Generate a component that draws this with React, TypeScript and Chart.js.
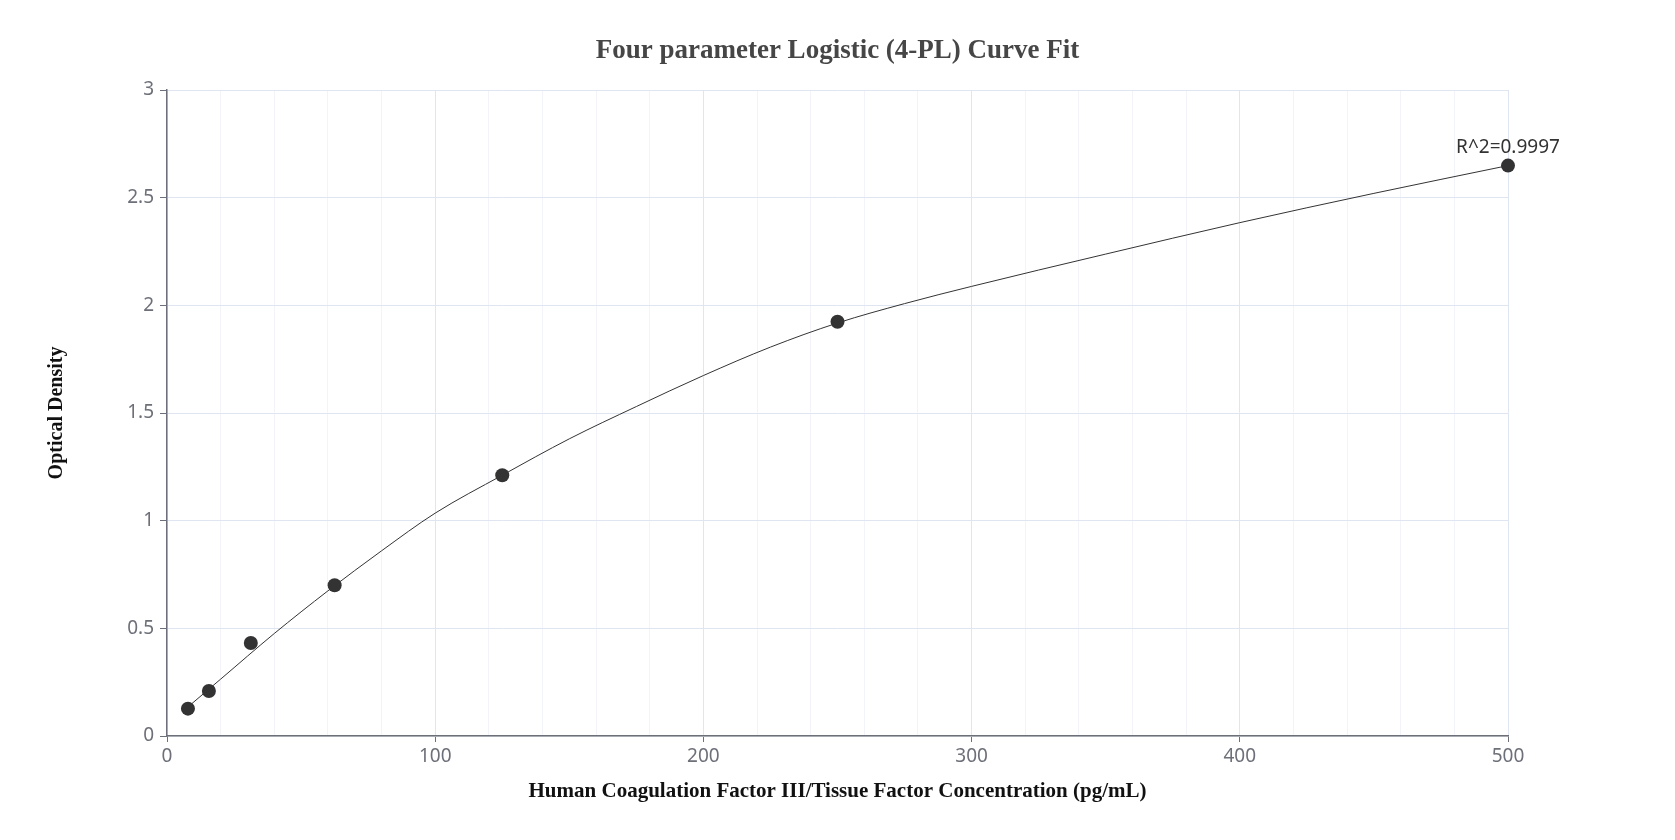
import React, { useEffect, useRef } from "react";
import { Chart, registerables } from "chart.js";

Chart.register(...registerables);

const TITLE = "Four parameter Logistic (4-PL) Curve Fit";
const X_TITLE = "Human Coagulation Factor III/Tissue Factor Concentration (pg/mL)";
const Y_TITLE = "Optical Density";
const R2_LABEL = "R^2=0.9997";

// Standard points
const pointX = [7.8125, 15.625, 31.25, 62.5, 125, 250, 500];
const pointY = [0.127, 0.209, 0.432, 0.7, 1.211, 1.924, 2.649];

// Fitted curve
const curveX = [7.8125, 20, 40, 60, 80, 100, 125, 150, 175, 200, 225, 250, 275, 300, 350, 400, 450, 500];
const curveY = [0.135, 0.264, 0.476, 0.674, 0.86, 1.035, 1.211, 1.38, 1.53, 1.674, 1.806, 1.918, 2.008, 2.088, 2.238, 2.384, 2.52, 2.649];

const X_MIN = 0;
const X_MAX = 500;
const X_STEP = 20;
const X_MAJOR = 100;
const Y_MIN = 0;
const Y_MAX = 3;
const Y_STEP = 0.5;

const AXIS_COLOR = "#6e7079";
const GRID_MAJOR = "#e0e6f1";
const GRID_MINOR = "#f3f4f9";
const TICK_FONT = { family: '"Noto Sans", sans-serif', size: 19 };

const textPlugin = {
  id: "extraTexts",
  afterDatasetsDraw(chart: any) {
    const ctx = chart.ctx;
    ctx.save();
    ctx.font = 'bold 27px "Liberation Serif", "Times New Roman", serif';
    ctx.fillStyle = "#464646";
    ctx.textAlign = "center";
    ctx.textBaseline = "middle";
    ctx.fillText(TITLE, chart.width / 2, 51);
    const xs = chart.scales.x;
    const ys = chart.scales.y;
    const i = pointX.length - 1;
    const px = xs.getPixelForValue(pointX[i]);
    const py = ys.getPixelForValue(pointY[i]);
    ctx.font = '19px "Noto Sans", sans-serif';
    ctx.fillStyle = "#333333";
    ctx.fillText(R2_LABEL, px, py - 18);
    ctx.restore();
  },
};

export default function App() {
  const ref = useRef<HTMLCanvasElement | null>(null);

  useEffect(() => {
    document.body.style.margin = "0";
    const canvas = ref.current;
    if (!canvas) return;
    const chart = new Chart(canvas, {
      type: "scatter",
      data: {
        datasets: [
          {
            label: "fit",
            data: curveX.map((x, i) => ({ x, y: curveY[i] })),
            showLine: true,
            borderColor: "#333333",
            borderWidth: 1,
            pointRadius: 0,
            pointHoverRadius: 0,
            cubicInterpolationMode: "monotone",
            fill: false,
            clip: false,
          } as any,
          {
            label: "standards",
            data: pointX.map((x, i) => ({ x, y: pointY[i] })),
            showLine: false,
            backgroundColor: "#333333",
            borderColor: "#333333",
            borderWidth: 0,
            pointRadius: 7,
            clip: false,
          } as any,
        ],
      },
      options: {
        responsive: false,
        animation: false,
        layout: { padding: { top: 90, right: 167, bottom: 0, left: 0 } },
        plugins: {
          legend: { display: false },
          tooltip: { enabled: false },
          title: { display: false },
        },
        scales: {
          x: {
            type: "linear",
            min: X_MIN,
            max: X_MAX,
            afterFit(scale: any) {
              scale.height = 104;
              scale.paddingLeft = 0;
              scale.paddingRight = 0;
            },
            border: { display: true, color: AXIS_COLOR, width: 1.5 },
            grid: {
              color: (c: any) => (c.tick && c.tick.value % X_MAJOR === 0 ? GRID_MAJOR : GRID_MINOR),
              tickColor: (c: any) => (c.tick && c.tick.value % X_MAJOR === 0 ? AXIS_COLOR : "rgba(0,0,0,0)"),
              tickLength: 6,
              lineWidth: 1,
            },
            ticks: {
              stepSize: X_STEP,
              autoSkip: false,
              maxRotation: 0,
              padding: 3,
              color: AXIS_COLOR,
              font: TICK_FONT,
              callback: (v: any) => (Number(v) % X_MAJOR === 0 ? String(Number(v)) : ""),
            },
            title: {
              display: true,
              text: X_TITLE,
              color: "#111111",
              font: { family: '"Liberation Serif", "Times New Roman", serif', size: 21, weight: "bold" },
              padding: { top: 0, bottom: 36 },
            },
          },
          y: {
            type: "linear",
            min: Y_MIN,
            max: Y_MAX,
            afterFit(scale: any) {
              scale.width = 167;
              scale.paddingTop = 0;
              scale.paddingBottom = 0;
            },
            border: { display: true, color: AXIS_COLOR, width: 1.5 },
            grid: {
              color: GRID_MAJOR,
              tickColor: AXIS_COLOR,
              tickLength: 7,
              lineWidth: 1,
            },
            ticks: {
              stepSize: Y_STEP,
              padding: 6,
              color: AXIS_COLOR,
              font: TICK_FONT,
              callback: (v: any) => String(Number(v)),
            },
            title: {
              display: true,
              text: Y_TITLE,
              color: "#111111",
              font: { family: '"Liberation Serif", "Times New Roman", serif', size: 20, weight: "bold" },
              padding: { top: 45, bottom: 0 },
            },
          },
        },
      } as any,
      plugins: [textPlugin],
    });
    return () => chart.destroy();
  }, []);

  return (
    <div style={{ position: "absolute", left: 0, top: 0, width: 1675, height: 840, background: "#fff" }}>
      <canvas ref={ref} width={1675} height={840} style={{ display: "block" }} />
    </div>
  );
}
